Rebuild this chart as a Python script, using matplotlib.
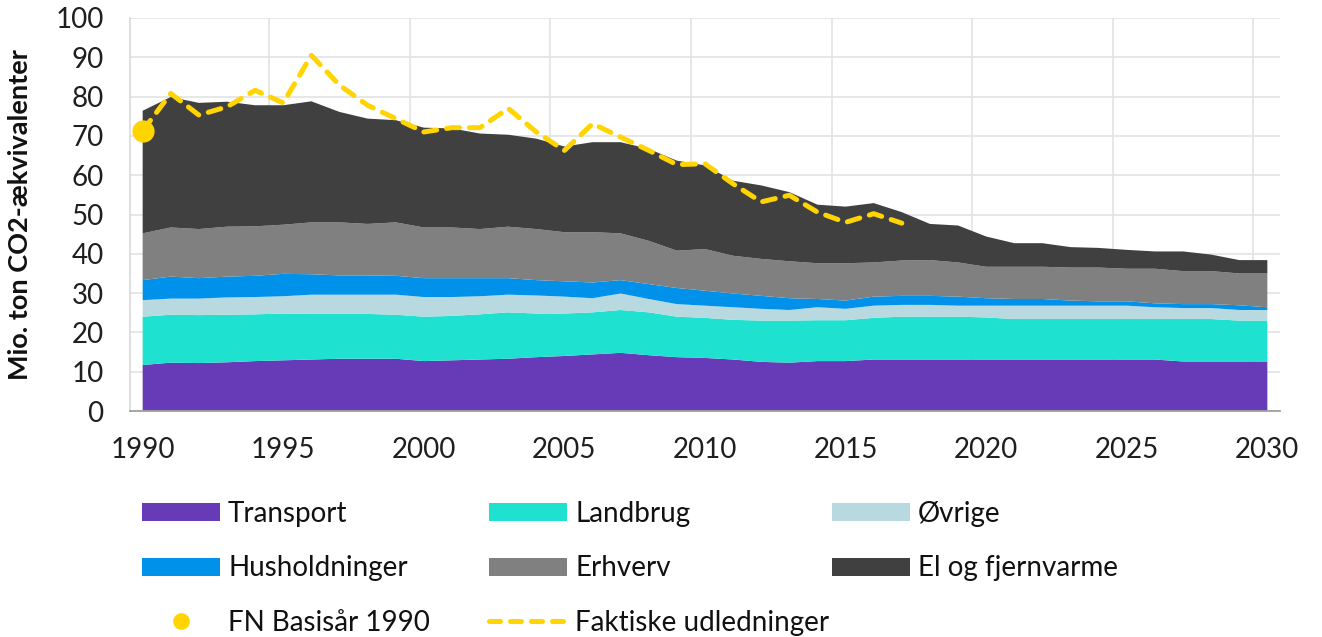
import matplotlib.pyplot as plt
import numpy as np
from matplotlib.lines import Line2D
from matplotlib.patches import Patch

plt.rcParams['font.family'] = ['Lato', 'DejaVu Sans']

years = np.arange(1990, 2031)

transport = [11.7, 12.3, 12.2, 12.4, 12.7, 12.9, 13.1, 13.3, 13.3, 13.3,
             12.7, 12.9, 13.1, 13.3, 13.7, 14.0, 14.4, 14.8, 14.2, 13.7,
             13.5, 13.1, 12.5, 12.3, 12.7, 12.7, 13.1, 13.1, 13.1, 13.1,
             13.1, 13.1, 13.1, 13.1, 13.1, 13.1, 13.1, 12.6, 12.6, 12.6, 12.6]
landbrug = [12.3, 12.2, 12.2, 12.1, 11.9, 11.9, 11.6, 11.4, 11.4, 11.2,
            11.3, 11.3, 11.5, 11.8, 11.1, 10.8, 10.7, 10.9, 10.9, 10.3,
            10.2, 10.1, 10.5, 10.7, 10.4, 10.4, 10.6, 10.9, 10.9, 10.9,
            10.7, 10.3, 10.3, 10.3, 10.3, 10.3, 10.3, 10.8, 10.8, 10.4, 10.4]
oevrige = [4.2, 4.1, 4.2, 4.4, 4.4, 4.4, 4.9, 4.9, 4.9, 5.1,
           5.0, 4.8, 4.6, 4.5, 4.6, 4.3, 3.6, 4.2, 3.4, 3.2,
           3.1, 3.2, 3.0, 2.7, 3.3, 2.9, 3.1, 3.0, 3.0, 2.8,
           3.0, 3.4, 3.4, 3.4, 3.4, 3.4, 3.0, 2.8, 2.8, 2.7, 2.7]
husholdninger = [5.1, 5.6, 5.2, 5.3, 5.4, 5.7, 5.2, 4.9, 4.9, 4.8,
                 4.8, 4.8, 4.6, 4.2, 3.9, 3.9, 4.0, 3.4, 3.8, 4.1,
                 3.8, 3.5, 3.3, 3.0, 2.1, 2.1, 2.3, 2.3, 2.3, 2.3,
                 1.9, 1.7, 1.7, 1.3, 1.1, 1.1, 1.0, 1.0, 1.0, 1.2, 0.7]
erhverv = [11.9, 12.5, 12.5, 12.7, 12.6, 12.5, 13.2, 13.5, 13.1, 13.6,
           12.9, 12.9, 12.5, 13.1, 13.0, 12.5, 12.8, 11.9, 11.0, 9.5,
           10.6, 9.6, 9.4, 9.4, 9.1, 9.5, 8.7, 9.0, 9.1, 8.7,
           8.0, 8.2, 8.2, 8.4, 8.6, 8.3, 8.8, 8.4, 8.4, 8.1, 8.6]
el_fjernvarme = [31.2, 33.2, 32.1, 31.8, 30.8, 30.4, 30.8, 28.1, 26.8, 26.0,
                 25.4, 25.2, 24.3, 23.4, 23.0, 21.8, 22.9, 23.2, 23.4, 22.9,
                 21.3, 19.1, 18.7, 17.6, 14.9, 14.4, 15.1, 12.3, 9.2, 9.4,
                 7.7, 6.0, 6.0, 5.2, 5.0, 4.8, 4.4, 5.0, 4.2, 3.4, 3.4]

faktiske_years = np.arange(1990, 2018)
faktiske = [71.3, 80.8, 75.3, 77.4, 81.6, 78.4, 90.5, 82.9, 77.8, 74.4,
            71.0, 72.1, 72.1, 77.0, 71.0, 66.3, 73.1, 69.7, 66.3, 62.7,
            62.9, 57.8, 53.2, 54.9, 50.6, 48.0, 50.2, 47.8]

basis_year = 1990
basis_value = 71.3

labels = ['Transport', 'Landbrug', 'Øvrige', 'Husholdninger', 'Erhverv', 'El og fjernvarme']
colors = ['#673AB7', '#1EE2CF', '#B7D9DF', '#0091EA', '#808080', '#404040']
yellow = '#FFD400'

fig = plt.figure(figsize=(13.22, 6.37), dpi=100)
ax = fig.add_axes([130 / 1322, 1 - 411 / 637, 1150 / 1322, 393 / 637])

ax.stackplot(years, transport, landbrug, oevrige, husholdninger, erhverv, el_fjernvarme,
             colors=colors, linewidth=0, zorder=2)
ax.plot(faktiske_years, faktiske, color=yellow, lw=3.6, linestyle=(0, (2.6, 2.0)),
        dash_capstyle='round', zorder=3)
ax.plot([basis_year], [basis_value], 'o', color=yellow, ms=15, zorder=4)

ax.set_xlim(1989.55, 2030.45)
ax.set_ylim(0, 100)
ax.set_xticks(np.arange(1990, 2031, 5))
ax.set_xticks(np.arange(1994.5, 2030, 5), minor=True)
ax.set_yticks(np.arange(0, 101, 10))
ax.grid(axis='y', color='#E3E3E3', lw=1.2)
ax.grid(axis='x', which='minor', color='#E3E3E3', lw=1.2)
ax.set_axisbelow(True)
ax.tick_params(axis='both', which='both', length=0, labelsize=20, colors='#1f1f1f')
ax.tick_params(axis='x', pad=19)
ax.tick_params(axis='y', pad=19)
for s in ['top', 'right']:
    ax.spines[s].set_visible(False)
ax.spines['bottom'].set_color('#A0A0A0')
ax.spines['bottom'].set_linewidth(1.3)
ax.spines['left'].set_color('#D9D9D9')
ax.spines['left'].set_linewidth(1.2)

ax.set_ylabel('Mio. ton CO2-ækvivalenter', fontsize=19.5, fontweight='bold', color='#111111')
ax.yaxis.set_label_coords((32 - 130) / 1150, 0.5)

patches = [Patch(facecolor=c, edgecolor='none') for c in colors]
dot = Line2D([], [], marker='o', color=yellow, ls='none', ms=11)
dash = Line2D([], [], color=yellow, lw=3.6, linestyle=(0, (2.2, 2.0)), dash_capstyle='round')

columns = [
    ([patches[0], patches[3], dot], ['Transport', 'Husholdninger', 'FN Basisår 1990'], 142),
    ([patches[1], patches[4], dash], ['Landbrug', 'Erhverv', 'Faktiske udledninger'], 489),
    ([patches[2], patches[5]], ['Øvrige', 'El og fjernvarme'], 832),
]
for handles, labs, xpx in columns:
    fig.legend(handles, labs, loc='upper left', bbox_to_anchor=(xpx / 1322, 1 - 501 / 637),
               frameon=False, fontsize=20, borderpad=0, borderaxespad=0,
               handlelength=2.8, handleheight=0.62, handletextpad=0.3,
               labelspacing=1.02, labelcolor='#111111')

fig.savefig('out.png', dpi=100)
